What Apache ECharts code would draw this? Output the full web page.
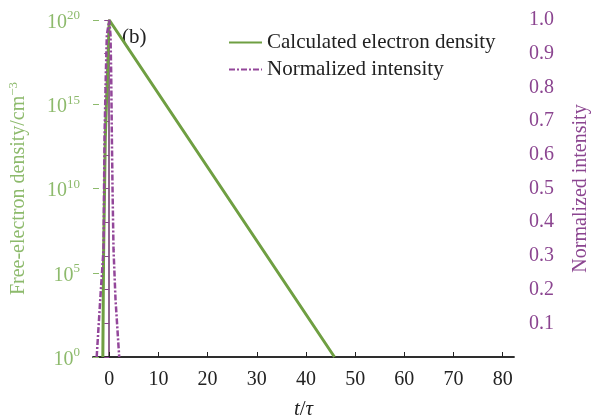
<!DOCTYPE html>
<html><head><meta charset="utf-8">
<script src="https://cdn.jsdelivr.net/npm/echarts@6/dist/echarts.min.js"></script>
<style>html,body{margin:0;padding:0;background:#fff}#c{width:591px;height:417px}</style>
</head><body><div id="c"></div>
<script>
// ---- data ----
const xTicks = [0, 10, 20, 30, 40, 50, 60, 70, 80];
const densityExpTicks = [0, 5, 10, 15, 20];          // tick labels 10^0 ... 10^20
const densityT = [-1.3, -1.15, -0.8, 0, 45.8];
const densityV = [1, 1e6, 1e13, 1e20, 1];
const intensityT = [-2.55, -1.83, -1.16, -1.05, -0.95, -0.69, -0.49, 0, 0.26, 0.4, 0.53, 0.67, 0.87, 1.28, 2.03];
const intensityV = [0, 0.17, 0.32, 0.5, 0.66, 0.84, 0.955, 1, 0.955, 0.84, 0.66, 0.5, 0.32, 0.17, 0];
const legendNames = ['Calculated electron density', 'Normalized intensity'];

const GREEN = '#6f9f42', GREEN_T = '#8dba6c', PURPLE = '#93479a', PURPLE_T = '#8b4590';
const FONT = 'Liberation Serif';

const chart = echarts.init(document.getElementById('c'));
chart.setOption({
  animation: false,
  grid: {left: 93, right: 77, top: 20, bottom: 60, outerBoundsMode: 'none', containLabel: false},
  legend: {
    orient: 'vertical', left: 228, top: 32, padding: 0, itemGap: 6, itemWidth: 33, itemHeight: 14,
    itemStyle: {opacity: 0, borderWidth: 0},
    textStyle: {fontFamily: FONT, fontSize: 21, color: '#222'},
    data: legendNames
  },
  graphic: [{type: 'text', left: 122, top: 27, style: {text: '(b)', fontFamily: FONT, fontSize: 21, fill: '#222'}}],
  xAxis: [{
    type: 'value', min: -3.3, max: 82.3,
    name: '{i|t}/{i|τ}', nameLocation: 'middle', nameGap: 42,
    nameTextStyle: {fontFamily: FONT, fontSize: 21, color: '#222', rich: {i: {fontStyle: 'italic', fontFamily: FONT, fontSize: 21, color: '#222'}}},
    axisLine: {lineStyle: {color: '#222', width: 1.5}},
    axisTick: {inside: true, length: 5, customValues: xTicks, lineStyle: {color: '#222'}},
    axisLabel: {customValues: xTicks, margin: 13, fontFamily: FONT, fontSize: 20, color: '#222'},
    splitLine: {show: false}
  }, {
    type: 'value', position: 'top', min: -3.3, max: 82.3,
    axisLine: {show: true, lineStyle: {color: '#222', width: 1.5}},
    axisTick: {show: false}, axisLabel: {show: false}, splitLine: {show: false}
  }],
  yAxis: [{
    type: 'log', logBase: 10, min: 1, max: 1e20, position: 'left',
    name: 'Free-electron density/cm{s|−3}', nameLocation: 'middle', nameGap: 63,
    nameTextStyle: {fontFamily: FONT, fontSize: 20, color: GREEN_T, rich: {s: {fontFamily: FONT, fontSize: 13, color: GREEN_T, padding: [0, 0, 10, 0]}}},
    axisLine: {show: true, lineStyle: {color: GREEN_T, width: 1.5}},
    axisTick: {show: false}, axisLabel: {show: false},
    splitLine: {show: false}, minorTick: {show: false}
  }, {
    type: 'value', min: 0, max: 1, interval: 0.1, position: 'right',
    name: 'Normalized intensity', nameLocation: 'middle', nameGap: 57,
    nameTextStyle: {fontFamily: FONT, fontSize: 20, color: PURPLE_T},
    axisLine: {show: true, lineStyle: {color: PURPLE_T, width: 1.5}},
    axisTick: {inside: true, length: 5, lineStyle: {color: PURPLE_T}},
    axisLabel: {margin: 15, fontFamily: FONT, fontSize: 20, color: PURPLE_T,
      formatter: v => v === 0 ? '' : v.toFixed(1)},
    splitLine: {show: false}
  }, {
    // exponent scale of the left axis, used for its ticks and 10^n labels
    type: 'value', min: densityExpTicks[0], max: densityExpTicks[densityExpTicks.length - 1],
    interval: 5, position: 'left', offset: 0,
    axisLine: {show: false},
    axisTick: {inside: true, length: 6, lineStyle: {color: GREEN_T}},
    axisLabel: {
      margin: 13, formatter: v => '{a|10}{b|' + v + '}',
      rich: {
        a: {fontFamily: FONT, fontSize: 20, color: GREEN_T, padding: [5, 0, 0, 0]},
        b: {fontFamily: FONT, fontSize: 13, color: GREEN_T, padding: [0, 0, 8, 0]}
      }
    },
    splitLine: {show: false}
  }],
  series: [{
    name: legendNames[0], type: 'line', xAxisIndex: 0, yAxisIndex: 0,
    symbol: 'none', lineStyle: {color: GREEN, width: 3}, itemStyle: {color: GREEN},
    data: densityT.map((t, i) => [t, densityV[i]]), z: 2
  }, {
    name: legendNames[1], type: 'line', xAxisIndex: 0, yAxisIndex: 1,
    symbol: 'none', lineStyle: {color: PURPLE, width: 2.5, type: [6, 2, 2, 2]}, itemStyle: {color: PURPLE},
    data: intensityT.map((t, i) => [t, intensityV[i]]), z: 3
  }]
});
</script></body></html>
